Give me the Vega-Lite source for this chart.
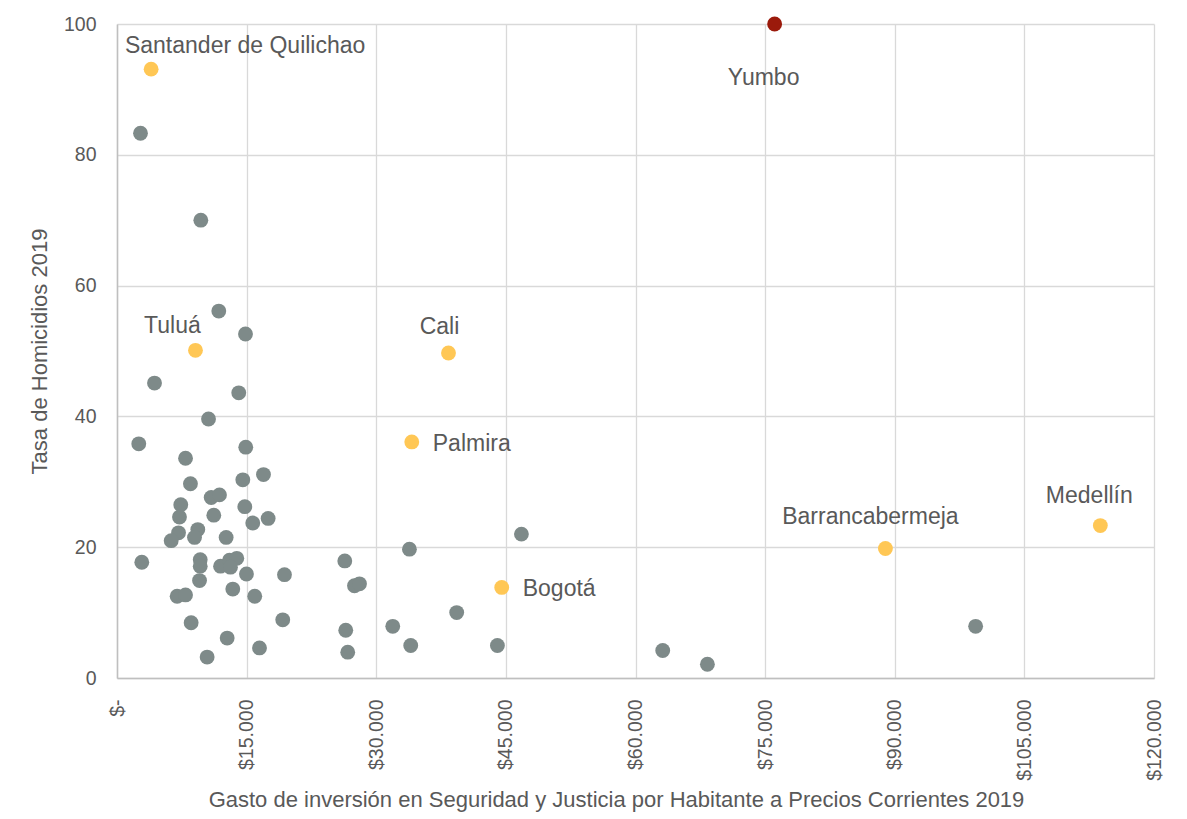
{
  "$schema": "https://vega.github.io/schema/vega-lite/v6.json",
  "width": 1037,
  "height": 654,
  "autosize": "none",
  "padding": {"left": 117, "top": 24, "right": 33, "bottom": 141},
  "background": "white",
  "config": {
    "view": {"stroke": null},
    "font": "Liberation Sans, Arial, sans-serif",
    "axis": {
      "labelFont": "Liberation Sans, Arial, sans-serif",
      "titleFont": "Liberation Sans, Arial, sans-serif",
      "labelColor": "#595959",
      "titleColor": "#595959",
      "labelFontSize": 19.5,
      "titleFontSize": 22,
      "titleFontWeight": "normal",
      "gridColor": "#d9d9d9",
      "gridWidth": 1.3,
      "domainColor": "#bfbfbf",
      "domainWidth": 1.5,
      "ticks": false
    }
  },
  "data": {
    "values": [
      {"municipio": "", "gasto": 11780, "tasa": 56.1, "tipo": "Otro"},
      {"municipio": "", "gasto": 14870, "tasa": 52.6, "tipo": "Otro"},
      {"municipio": "", "gasto": 4340, "tasa": 45.1, "tipo": "Otro"},
      {"municipio": "", "gasto": 14090, "tasa": 43.6, "tipo": "Otro"},
      {"municipio": "", "gasto": 10590, "tasa": 39.6, "tipo": "Otro"},
      {"municipio": "", "gasto": 2520, "tasa": 35.8, "tipo": "Otro"},
      {"municipio": "", "gasto": 14900, "tasa": 35.3, "tipo": "Otro"},
      {"municipio": "", "gasto": 7930, "tasa": 33.6, "tipo": "Otro"},
      {"municipio": "", "gasto": 16950, "tasa": 31.1, "tipo": "Otro"},
      {"municipio": "", "gasto": 8500, "tasa": 29.7, "tipo": "Otro"},
      {"municipio": "", "gasto": 14560, "tasa": 30.3, "tipo": "Otro"},
      {"municipio": "", "gasto": 10900, "tasa": 27.6, "tipo": "Otro"},
      {"municipio": "", "gasto": 11860, "tasa": 28.0, "tipo": "Otro"},
      {"municipio": "", "gasto": 7380, "tasa": 26.5, "tipo": "Otro"},
      {"municipio": "", "gasto": 14790, "tasa": 26.2, "tipo": "Otro"},
      {"municipio": "", "gasto": 7230, "tasa": 24.6, "tipo": "Otro"},
      {"municipio": "", "gasto": 11200, "tasa": 24.9, "tipo": "Otro"},
      {"municipio": "", "gasto": 15710, "tasa": 23.7, "tipo": "Otro"},
      {"municipio": "", "gasto": 17490, "tasa": 24.4, "tipo": "Otro"},
      {"municipio": "", "gasto": 7120, "tasa": 22.2, "tipo": "Otro"},
      {"municipio": "", "gasto": 9350, "tasa": 22.7, "tipo": "Otro"},
      {"municipio": "", "gasto": 6270, "tasa": 21.0, "tipo": "Otro"},
      {"municipio": "", "gasto": 8970, "tasa": 21.5, "tipo": "Otro"},
      {"municipio": "", "gasto": 12630, "tasa": 21.5, "tipo": "Otro"},
      {"municipio": "", "gasto": 2870, "tasa": 17.7, "tipo": "Otro"},
      {"municipio": "", "gasto": 9630, "tasa": 18.1, "tipo": "Otro"},
      {"municipio": "", "gasto": 9630, "tasa": 17.1, "tipo": "Otro"},
      {"municipio": "", "gasto": 11980, "tasa": 17.1, "tipo": "Otro"},
      {"municipio": "", "gasto": 13020, "tasa": 18.0, "tipo": "Otro"},
      {"municipio": "", "gasto": 13860, "tasa": 18.3, "tipo": "Otro"},
      {"municipio": "", "gasto": 13130, "tasa": 16.95, "tipo": "Otro"},
      {"municipio": "", "gasto": 14980, "tasa": 15.9, "tipo": "Otro"},
      {"municipio": "", "gasto": 19380, "tasa": 15.8, "tipo": "Otro"},
      {"municipio": "", "gasto": 9550, "tasa": 14.9, "tipo": "Otro"},
      {"municipio": "", "gasto": 13400, "tasa": 13.6, "tipo": "Otro"},
      {"municipio": "", "gasto": 15940, "tasa": 12.5, "tipo": "Otro"},
      {"municipio": "", "gasto": 6960, "tasa": 12.5, "tipo": "Otro"},
      {"municipio": "", "gasto": 7930, "tasa": 12.7, "tipo": "Otro"},
      {"municipio": "", "gasto": 8580, "tasa": 8.45, "tipo": "Otro"},
      {"municipio": "", "gasto": 19180, "tasa": 8.9, "tipo": "Otro"},
      {"municipio": "", "gasto": 12750, "tasa": 6.1, "tipo": "Otro"},
      {"municipio": "", "gasto": 16490, "tasa": 4.6, "tipo": "Otro"},
      {"municipio": "", "gasto": 10430, "tasa": 3.2, "tipo": "Otro"},
      {"municipio": "", "gasto": 2720, "tasa": 83.3, "tipo": "Otro"},
      {"municipio": "", "gasto": 9700, "tasa": 70.0, "tipo": "Otro"},
      {"municipio": "", "gasto": 26360, "tasa": 17.9, "tipo": "Otro"},
      {"municipio": "", "gasto": 27480, "tasa": 14.1, "tipo": "Otro"},
      {"municipio": "", "gasto": 28060, "tasa": 14.4, "tipo": "Otro"},
      {"municipio": "", "gasto": 33840, "tasa": 19.7, "tipo": "Otro"},
      {"municipio": "", "gasto": 46800, "tasa": 22.0, "tipo": "Otro"},
      {"municipio": "", "gasto": 39310, "tasa": 10.0, "tipo": "Otro"},
      {"municipio": "", "gasto": 26470, "tasa": 7.3, "tipo": "Otro"},
      {"municipio": "", "gasto": 26700, "tasa": 3.95, "tipo": "Otro"},
      {"municipio": "", "gasto": 31910, "tasa": 7.9, "tipo": "Otro"},
      {"municipio": "", "gasto": 33990, "tasa": 4.97, "tipo": "Otro"},
      {"municipio": "", "gasto": 44020, "tasa": 4.97, "tipo": "Otro"},
      {"municipio": "", "gasto": 63150, "tasa": 4.2, "tipo": "Otro"},
      {"municipio": "", "gasto": 68320, "tasa": 2.1, "tipo": "Otro"},
      {"municipio": "", "gasto": 99360, "tasa": 7.9, "tipo": "Otro"},
      {"municipio": "Santander de Quilichao", "gasto": 3950, "tasa": 93.1, "tipo": "Destacado"},
      {"municipio": "Tuluá", "gasto": 9080, "tasa": 50.1, "tipo": "Destacado"},
      {"municipio": "Cali", "gasto": 38360, "tasa": 49.7, "tipo": "Destacado"},
      {"municipio": "Palmira", "gasto": 34110, "tasa": 36.1, "tipo": "Destacado"},
      {"municipio": "Bogotá", "gasto": 44520, "tasa": 13.85, "tipo": "Destacado"},
      {"municipio": "Barrancabermeja", "gasto": 88920, "tasa": 19.8, "tipo": "Destacado"},
      {"municipio": "Medellín", "gasto": 113790, "tasa": 23.3, "tipo": "Destacado"},
      {"municipio": "Yumbo", "gasto": 76100, "tasa": 100, "tipo": "Yumbo"}
    ]
  },
  "encoding": {
    "x": {
      "field": "gasto",
      "type": "quantitative",
      "scale": {"domain": [0, 120000], "nice": false, "zero": true},
      "axis": {
        "title": "Gasto de inversión en Seguridad y Justicia por Habitante a Precios Corrientes 2019",
        "values": [0, 15000, 30000, 45000, 60000, 75000, 90000, 105000, 120000],
        "labelAngle": -90,
        "labelAlign": "right",
        "labelBaseline": "middle",
        "labelPadding": 21,
        "titlePadding": 9,
        "titleX": 499,
        "labelExpr": "datum.value == 0 ? '$-' : '$' + replace(format(datum.value, ','), ',', '.')"
      }
    },
    "y": {
      "field": "tasa",
      "type": "quantitative",
      "scale": {"domain": [0, 100], "nice": false},
      "axis": {
        "title": "Tasa de Homicidios 2019",
        "values": [0, 20, 40, 60, 80, 100],
        "labelPadding": 21,
        "titlePadding": 12
      }
    }
  },
  "layer": [
    {
      "mark": {"type": "circle", "size": 220, "opacity": 1},
      "encoding": {
        "color": {
          "field": "tipo",
          "type": "nominal",
          "scale": {"domain": ["Otro", "Destacado", "Yumbo"], "range": ["#7E8A89", "#FFC755", "#9B1A0B"]},
          "legend": null
        }
      }
    },
    {
      "transform": [{"filter": "datum.municipio == 'Santander de Quilichao'"}],
      "mark": {"type": "text", "align": "center", "baseline": "alphabetic", "dx": 94, "dy": -16, "fontSize": 23, "color": "#595959"},
      "encoding": {"text": {"field": "municipio"}}
    },
    {
      "transform": [{"filter": "datum.municipio == 'Tuluá'"}],
      "mark": {"type": "text", "align": "center", "baseline": "alphabetic", "dx": -23, "dy": -17, "fontSize": 23, "color": "#595959"},
      "encoding": {"text": {"field": "municipio"}}
    },
    {
      "transform": [{"filter": "datum.municipio == 'Cali'"}],
      "mark": {"type": "text", "align": "center", "baseline": "alphabetic", "dx": -9, "dy": -19, "fontSize": 23, "color": "#595959"},
      "encoding": {"text": {"field": "municipio"}}
    },
    {
      "transform": [{"filter": "datum.municipio == 'Palmira' || datum.municipio == 'Bogotá'"}],
      "mark": {"type": "text", "align": "left", "baseline": "alphabetic", "dx": 21, "dy": 9, "fontSize": 23, "color": "#595959"},
      "encoding": {"text": {"field": "municipio"}}
    },
    {
      "transform": [{"filter": "datum.municipio == 'Barrancabermeja'"}],
      "mark": {"type": "text", "align": "center", "baseline": "alphabetic", "dx": -15, "dy": -25, "fontSize": 23, "color": "#595959"},
      "encoding": {"text": {"field": "municipio"}}
    },
    {
      "transform": [{"filter": "datum.municipio == 'Medellín'"}],
      "mark": {"type": "text", "align": "center", "baseline": "alphabetic", "dx": -11, "dy": -23, "fontSize": 23, "color": "#595959"},
      "encoding": {"text": {"field": "municipio"}}
    },
    {
      "transform": [{"filter": "datum.municipio == 'Yumbo'"}],
      "mark": {"type": "text", "align": "center", "baseline": "alphabetic", "dx": -11, "dy": 61, "fontSize": 23, "color": "#595959"},
      "encoding": {"text": {"field": "municipio"}}
    }
  ]
}
